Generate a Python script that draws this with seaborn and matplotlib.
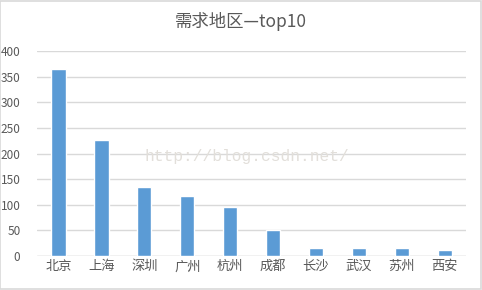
import matplotlib
matplotlib.use("Agg")
import matplotlib.pyplot as plt
import seaborn as sns
import pandas as pd

cities = ["北京", "上海", "深圳", "广州", "杭州", "成都", "长沙", "武汉", "苏州", "西安"]
counts = [364, 227, 134, 117, 95, 50, 16, 15, 15, 11]
yticks = [0, 50, 100, 150, 200, 250, 300, 350, 400]
title = "需求地区—top10"

sns.set_theme(style="white")
plt.rcParams['font.family'] = ['Noto Sans CJK SC', 'DejaVu Sans']

df = pd.DataFrame({"city": cities, "count": counts})

fig = plt.figure(figsize=(4.82, 2.90), dpi=100)
ax = fig.add_axes([0.077, 0.117, 0.890, 0.707])
sns.barplot(data=df, x="city", y="count", color="#5B9BD5", width=0.33,
            saturation=1, ax=ax, zorder=3)
ax.set_ylim(0, 400)
ax.set_yticks(yticks)
ax.set_xlim(-0.5, len(cities) - 0.5)
ax.yaxis.grid(True, color="#D9D9D9", linewidth=1, zorder=0)
for s in ax.spines.values():
    s.set_visible(False)
ax.axhline(0, color="#D9D9D9", linewidth=1, zorder=2)
ax.set_xlabel("")
ax.set_ylabel("")
ax.tick_params(axis="both", length=0, colors="#595959")
ax.tick_params(axis="y", labelsize=8.5, pad=12)
ax.tick_params(axis="x", labelsize=9.5, pad=3)
fig.text(0.5, 0.925, title, ha="center", va="center", fontsize=12.5, color="#595959")
fig.text(0.513, 0.462, "http://blog.csdn.net/", ha="center", va="center",
         fontsize=11.7, color="#E2DFDA", family=["Liberation Mono"], zorder=5)
border = plt.Rectangle((0.001, 0.002), 0.997, 0.995, transform=fig.transFigure,
                       fill=False, edgecolor="#D9D9D9", linewidth=1.2)
fig.patches.append(border)
fig.savefig("out.png", dpi=100)
